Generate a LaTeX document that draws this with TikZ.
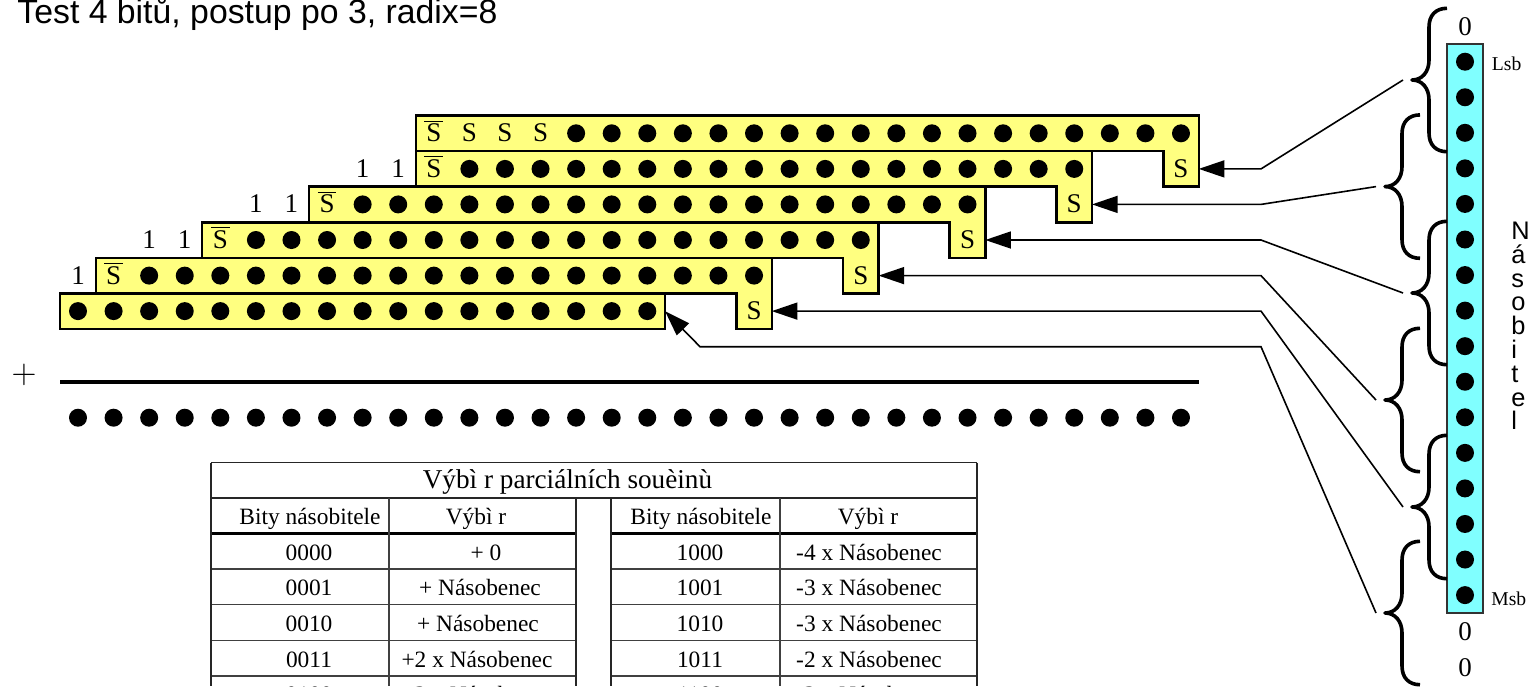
\documentclass[tikz,border=0pt]{standalone}
\usepackage{fontspec}
\setmainfont{Liberation Serif}
\setsansfont{Liberation Sans}
\usetikzlibrary{arrows.meta, positioning}

\definecolor{partcolor}{HTML}{FFFF80}
\definecolor{multcolor}{HTML}{80FFFF}
\newcommand{\sbar}{$\overline{\mbox{\kern0.9pt S\kern0.9pt}}$}

\tikzset{
    dot/.style={circle, fill=black, inner sep=0pt, minimum size=9pt},
    cell/.style={inner sep=0pt, outer sep=0pt, minimum width=17.78pt, minimum height=17.78pt,
        text height=8.4pt, text depth=0pt, font=\fontsize{13.5}{16}\selectfont},
    partbox/.style={draw=black, fill=partcolor, line width=1.3pt, miter limit=10},
    feed/.style={draw=black, line width=0.8pt, -{Triangle[length=12.8pt, width=8.5pt]}},
    tabtext/.style={anchor=base, inner sep=0pt, font=\fontsize{11.7}{14}\selectfont},
    thinrule/.style={draw=black!75, line width=0.6pt},
    midrule/.style={draw=black!85, line width=0.9pt},
    thickrule/.style={draw=black, line width=1.5pt},
    pics/selbrace/.style={code={
        \draw[line width=1.8pt, line join=round] (35,-71.7) .. controls (24,-71.7) and (17,-65) .. (17,-53)
            -- (17,-20) .. controls (17,-8) and (10,0) .. (0,0)
            .. controls (10,0) and (17,8) .. (17,20)
            -- (17,53) .. controls (17,65) and (24,71.7) .. (35,71.7);
    }}
}

\begin{document}
\begin{tikzpicture}[x=0.5pt, y=-0.5pt]
    \useasboundingbox (0,0) rectangle (1530,686);

    \node[anchor=base west, inner sep=0pt, font=\sffamily\fontsize{16.9}{20}\selectfont] (title) at (17,23.3) {Test 4 bitů, postup po 3, radix=8};

    % partial products
    \foreach \lx/\rx/\ty/\my/\by in {416/1198.8/115.5/151.1/186.6, 416/1092/151.1/186.6/222.2, 309/985.3/186.6/222.2/257.8, 202/878.6/222.2/257.8/293.3, 96/771.8/257.8/293.3/328.9}
        \draw[partbox] (\lx,\ty) -- (\rx,\ty) -- (\rx,\by) -- ({\rx-35.56},\by) -- ({\rx-35.56},\my) -- (\lx,\my) -- cycle;
    \node[partbox, inner sep=0pt, outer sep=0pt, minimum width=302.5pt, minimum height=17.78pt] (row6) at (362.5,311.1) {};

    \foreach \r/\y/\from/\to in {1/133.3/14/31, 2/168.9/11/28, 3/204.4/8/25, 4/240/5/22, 5/275.6/2/19, 6/311.1/0/16, 7/417.7/0/31}
        \foreach \c in {\from,...,\to}
            \node[dot] (d\r-\c) at ({78+35.58*\c},\y) {};

    % sign bits
    \foreach \c in {11,12,13}
        \node[cell] (t\c) at ({78+35.58*\c},133.3) {S};
    \foreach \r/\c/\y in {2/31/168.9, 3/28/204.4, 4/25/240, 5/22/275.6, 6/19/311.1}
        \node[cell] (s\r) at ({78+35.58*\c},\y) {S};
    \foreach \r/\c/\y in {1/10/133.3, 2/10/168.9, 3/7/204.4, 4/4/240, 5/1/275.6}
        \node[cell] (n\r) at ({78+35.58*\c},\y) {\sbar};
    \foreach \n/\c/\y in {a/8/168.9, b/9/168.9, c/5/204.4, d/6/204.4, e/2/240, f/3/240, g/0/275.6}
        \node[cell] (one\n) at ({78+35.58*\c},\y) {1};

    % sum
    \node[inner sep=0pt, font=\fontsize{17.3}{20}\selectfont] (plus) at (24,375) {$+$};
    \coordinate (barl) at (60,382);
    \coordinate (barr) at (1198.8,382);
    \draw[line width=2pt] (barl) -- (barr);

    % multiplier
    \node[draw=black!80, fill=multcolor, line width=0.9pt, inner sep=0pt, minimum width=18.1pt, minimum height=284.5pt] (mult) at (1465,328.5) {};
    \foreach \k in {0,...,15}
        \node[dot] (m\k) at (1465,{61.7+35.56*\k}) {};
    \node[cell] (z1) at (1465,27.5) {0};
    \node[cell] (z2) at (1465,632) {0};
    \node[cell] (z3) at (1465,668) {0};
    \node[anchor=base west, inner sep=0pt, font=\fontsize{9.8}{12}\selectfont] (lsb) at (1491.5,70.7) {Lsb};
    \node[anchor=base west, inner sep=0pt, font=\fontsize{9.8}{12}\selectfont] (msb) at (1491,605) {Msb};
    \node[anchor=north west, inner sep=0pt, align=left, font=\sffamily\fontsize{12.7}{11.9}\selectfont] (nas) at (1511,221.7) {N\\á\\s\\o\\b\\i\\t\\e\\l};

    % braces
    \foreach \n/\x/\y in {1/1412/80, 2/1385/186.6, 3/1412/293, 4/1385/400, 5/1412/507, 6/1385/613} {
        \coordinate (tip\n) at (\x,\y);
        \coordinate (end\n) at ({\x-9},\y);
        \pic at (tip\n) {selbrace};
    }
    \foreach \n/\y in {1/168.9, 2/204.4, 3/240, 4/275.6, 5/311.1, 6/346.7}
        \coordinate (knee\n) at (1261,\y);
    \coordinate (turn6) at (700,346.7);

    \draw[feed] (end1) -- (knee1) -- (s2.east);
    \draw[feed] (end2) -- (knee2) -- (s3.east);
    \draw[feed] (end3) -- (knee3) -- (s4.east);
    \draw[feed] (end4) -- (knee4) -- (s5.east);
    \draw[feed] (end5) -- (knee5) -- (s6.east);
    \draw[feed] (end6) -- (knee6) -- (turn6) -- (row6.east);

    % table
    \foreach \y in {569,604.7,640.3,676} {
        \draw[thinrule] (211,\y) -- (576,\y);
        \draw[thinrule] (611,\y) -- (977,\y);
    }
    \draw[thickrule] (211,533) -- (576,533);
    \draw[thickrule] (611,533) -- (977,533);
    \draw[midrule] (211,498) -- (977,498);
    \draw[midrule] (211,462.5) -- (977,462.5);
    \foreach \x in {211,977}
        \draw[midrule] (\x,462.5) -- (\x,686);
    \foreach \x in {576,611}
        \draw[midrule] (\x,498) -- (\x,686);
    \foreach \x in {389,780}
        \draw[thinrule] (\x,498) -- (\x,686);

    \node[tabtext, font=\fontsize{13.6}{16}\selectfont] (head) at (567.5,488) {Výbì r parciálních souèinù};
    \node[tabtext] (h1) at (310,524) {Bity násobitele};
    \node[tabtext] (h2) at (476,524) {Výbì r};
    \node[tabtext] (h3) at (701,524) {Bity násobitele};
    \node[tabtext] (h4) at (868,524) {Výbì r};

    \foreach \n/\y/\a/\bx/\b/\c/\d in {1/560/0000/486/{+ 0}/1000/{-4 x Násobenec},
        2/595.7/0001/480/{+ Násobenec}/1001/{-3 x Násobenec},
        3/631.3/0010/478/{+ Násobenec}/1010/{-3 x Násobenec},
        4/667/0011/477/{+2 x Násobenec}/1011/{-2 x Násobenec},
        5/702.6/0100/477/{+2 x Násobenec}/1100/{-2 x Násobenec}} {
        \node[tabtext] (ta\n) at (309,\y) {\a};
        \node[tabtext] (tb\n) at (\bx,\y) {\b};
        \node[tabtext] (tc\n) at (700,\y) {\c};
        \node[tabtext] (td\n) at (869,\y) {\d};
    }
\end{tikzpicture}
\end{document}
